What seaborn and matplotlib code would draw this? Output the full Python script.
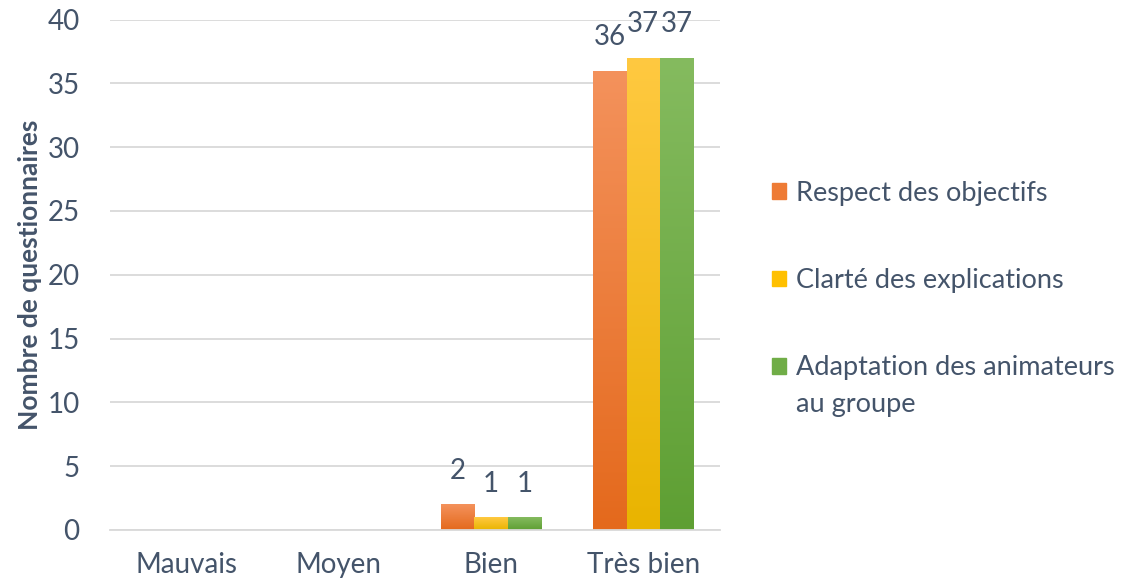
import numpy as np
import pandas as pd
import matplotlib
matplotlib.use("Agg")
import matplotlib.pyplot as plt
from matplotlib.colors import LinearSegmentedColormap
from matplotlib.legend_handler import HandlerPatch
import seaborn as sns

categories = ["Mauvais", "Moyen", "Bien", "Très bien"]
series = ["Respect des objectifs", "Clarté des explications",
          "Adaptation des animateurs\nau groupe"]
respect = [0, 0, 2, 36]
clarte = [0, 0, 1, 37]
adaptation = [0, 0, 1, 37]

top_colors = ["#F4925C", "#FFC941", "#85BB5F"]
bottom_colors = ["#E4691C", "#E9B400", "#5E9F33"]
mid_colors = ["#EE7B35", "#FFC000", "#70AD47"]
text_color = "#44546A"

sns.set_theme(style="white")
plt.rcParams["font.family"] = ["Lato", "DejaVu Sans"]

rows = []
for s, vals in zip(series, [respect, clarte, adaptation]):
    for c, v in zip(categories, vals):
        rows.append({"cat": c, "serie": s, "val": v})
df = pd.DataFrame(rows)

fig = plt.figure(figsize=(11.35, 5.84), dpi=100)
ax = fig.add_axes([0.097, 0.0925, 0.537, 0.874])

sns.barplot(data=df, x="cat", y="val", hue="serie", order=categories,
            hue_order=series, palette=mid_colors, width=0.66,
            saturation=1, ax=ax, legend=False, linewidth=0)

ax.set_ylim(0, 40)
ax.set_yticks(range(0, 41, 5))
ax.set_xlim(-0.5, 3.5)
ax.yaxis.grid(True, color="#D9D9D9", linewidth=1.3)
ax.set_axisbelow(True)
for sp in ["top", "right", "left"]:
    ax.spines[sp].set_visible(False)
ax.spines["bottom"].set_color("#D9D9D9")
ax.spines["bottom"].set_linewidth(1.3)
ax.tick_params(axis="both", length=0, labelsize=20, colors=text_color)
ax.tick_params(axis="x", pad=16)
ax.tick_params(axis="y", pad=22)
ax.set_xlabel("")
ax.set_ylabel("Nombre de questionnaires", fontsize=19, fontweight="bold",
              color=text_color, labelpad=4)

# gradient fill and labels
for i, cont in enumerate(ax.containers):
    cmap = LinearSegmentedColormap.from_list("g", [bottom_colors[i], top_colors[i]])
    for bar, v in zip(cont.patches, [respect, clarte, adaptation][i]):
        x, w, h = bar.get_x(), bar.get_width(), bar.get_height()
        if h <= 0:
            continue
        grad = np.linspace(0, 1, 256).reshape(-1, 1)
        im = ax.imshow(grad, cmap=cmap, origin="lower", aspect="auto",
                       extent=[x, x + w, 0, h], zorder=bar.get_zorder())
        im.set_clip_path(bar)
        ax.text(x + w / 2, h + 1.6, f"{v}", ha="center", va="bottom",
                fontsize=20, color=text_color)

ax.set_xlim(-0.5, 3.5)
ax.set_ylim(0, 40)


def make_patch(legend, orig_handle, xdescent, ydescent, width, height, fontsize):
    off = 14.8 if orig_handle.get_gid() == "up" else 0
    return plt.Rectangle((-xdescent, -ydescent + off), width, height)


handles = [plt.Rectangle((0, 0), 1, 1, color=c) for c in mid_colors]
handles[2].set_gid("up")
leg = fig.legend(handles, series, loc="center left",
                 bbox_to_anchor=(0.659, 0.488),
                 frameon=False, fontsize=19.5, labelcolor=text_color,
                 handlelength=0.5, handleheight=0.5, handletextpad=0.36,
                 labelspacing=2.3,
                 handler_map={plt.Rectangle: HandlerPatch(patch_func=make_patch)})
leg.get_texts()[2].set_linespacing(1.6)

fig.savefig("out.png", dpi=100)
